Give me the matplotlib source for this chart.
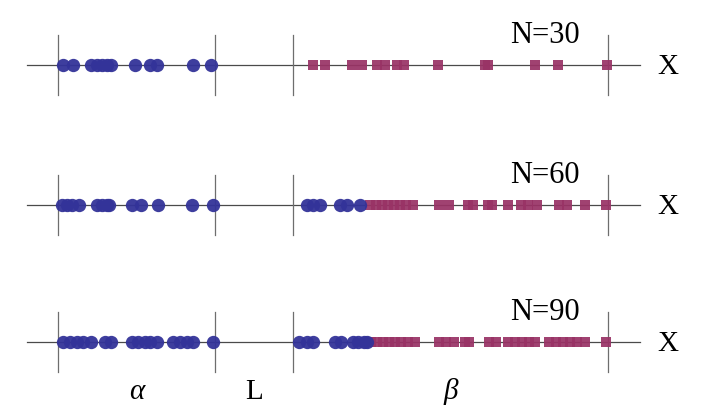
import matplotlib
matplotlib.use("Agg")
import matplotlib.pyplot as plt

# positions along x: alpha region is [0, 1], gap L is [1, 1.5], beta region is [1.5, 3.5]
labels = ["N=30", "N=60", "N=90"]

blue_30 = [0.030, 0.094, 0.208, 0.246, 0.278, 0.310, 0.338, 0.490, 0.586, 0.629, 0.862, 0.975]
red_30 = [1.626, 1.701, 1.871, 1.938, 2.030, 2.085, 2.161, 2.202, 2.422, 2.72, 2.74, 3.038, 3.183, 3.499]

blue_60 = [0.023, 0.055, 0.087, 0.136, 0.246, 0.278, 0.310, 0.327, 0.469, 0.527, 0.639, 0.851, 0.985,
           1.584, 1.626, 1.669, 1.796, 1.839, 1.925]
red_60 = [1.987, 2.025, 2.064, 2.102, 2.140, 2.178, 2.217, 2.261, 2.427, 2.490, 2.613, 2.643, 2.741,
          2.762, 2.864, 2.951, 2.996, 3.051, 3.189, 3.242, 3.355, 3.492]

blue_90 = [0.030, 0.076, 0.119, 0.161, 0.208, 0.299, 0.338, 0.469, 0.511, 0.554, 0.586, 0.629, 0.735,
           0.777, 0.820, 0.858, 0.985, 1.537, 1.584, 1.622, 1.764, 1.801, 1.877, 1.913, 1.949, 1.966]
red_90 = [1.994, 2.032, 2.070, 2.108, 2.146, 2.185, 2.229, 2.274, 2.425, 2.471, 2.520, 2.592, 2.618,
          2.743, 2.792, 2.866, 2.911, 2.955, 3.000, 3.038, 3.127, 3.172, 3.217, 3.261, 3.306, 3.357, 3.490]

boundaries = [0.0, 1.0, 1.5, 3.5]
region_labels = [("α", 0.5, "italic"), ("L", 1.25, "normal"), ("β", 2.5, "italic")]

blues = [blue_30, blue_60, blue_90]
reds = [red_30, red_60, red_90]
rows_y = [65, 205, 342]

plt.rcParams["font.family"] = ["Liberation Serif", "DejaVu Serif"]

fig = plt.figure(figsize=(7.06, 4.11), dpi=100)
ax = fig.add_axes([0, 0, 1, 1])
ax.set_xlim(-0.369, 4.127)
ax.set_ylim(411, 0)
ax.axis("off")

for y, blue, red, lab in zip(rows_y, blues, reds, labels):
    ax.plot([-0.197, 3.707], [y, y], color="#4a4a4a", lw=0.9, zorder=1)
    for b in boundaries:
        ax.plot([b, b], [y - 30, y + 30], color="#6e6e6e", lw=0.9, zorder=1)
    ax.scatter(red, [y] * len(red), marker="s", s=56, color="#993366", alpha=0.93,
               linewidths=0, zorder=2)
    ax.scatter(blue, [y] * len(blue), marker="o", s=92, color="#333399", alpha=0.95,
               linewidths=0, zorder=3)
    ax.text(3.1, y - 22, lab, fontsize=22, ha="center", va="baseline")
    ax.text(3.883, y + 2, "X", fontsize=21, ha="center", va="center")

for txt, xpos, style in region_labels:
    ax.text(xpos, 399, txt, fontsize=21, ha="center", va="baseline", fontstyle=style)

fig.savefig("out.png", dpi=100)
